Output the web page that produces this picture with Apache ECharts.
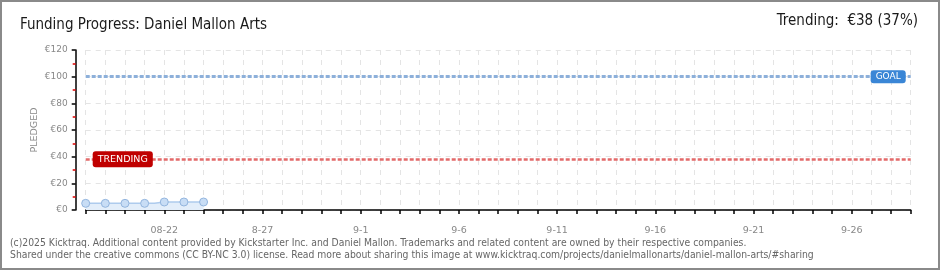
<!DOCTYPE html>
<html style="height: 100%">
   <head>
       <meta charset="utf-8">
       <script src="https://cdn.jsdelivr.net/npm/echarts@6/dist/echarts.min.js"></script>
   </head>
   <body style="height: 100%; margin: 0; background: #fff">
       <div id="container" style="width: 940px; height: 270px"></div>
       <script type="text/javascript">
// days of the campaign, mid august to end of september
var categories = ['8-18', '8-19', '8-20', '8-21', '08-22', '8-23', '8-24', '8-25', '8-26', '8-27',
    '8-28', '8-29', '8-30', '8-31', '9-1', '9-2', '9-3', '9-4', '9-5', '9-6',
    '9-7', '9-8', '9-9', '9-10', '9-11', '9-12', '9-13', '9-14', '9-15', '9-16',
    '9-17', '9-18', '9-19', '9-20', '9-21', '9-22', '9-23', '9-24', '9-25', '9-26',
    '9-27', '9-28', '9-29'];
var pledged = [5, 5, 5, 5, 6, 6, 6];
var goal = 100;
var trending = 38;
var yTicks = [0, 20, 40, 60, 80, 100, 120];

var pixelFont = 'DejaVu Sans';
var headFont = 'DejaVu Sans Condensed';
var dom = document.getElementById("container");
var myChart = echarts.init(dom);

var option = {
    backgroundColor: '#fff',
    animation: false,
    title: [
        {
            text: 'Funding Progress: Daniel Mallon Arts',
            left: 20,
            top: 18,
            padding: 0,
            textStyle: {fontFamily: headFont, fontSize: 15, fontWeight: 'normal', color: '#1a1a1a'}
        },
        {
            text: 'Trending:  €38 (37%)',
            right: 22,
            top: 14,
            padding: 0,
            textStyle: {fontFamily: headFont, fontSize: 15, fontWeight: 'normal', color: '#1a1a1a'}
        }
    ],
    grid: {
        left: 85.7,
        right: 29.3,
        top: 50,
        bottom: 60,
        containLabel: false
    },
    xAxis: {
        type: 'category',
        data: categories,
        boundaryGap: false,
        offset: 10,
        axisLine: {lineStyle: {color: '#000', width: 1.5}},
        axisTick: {show: true, interval: 0, length: 4, lineStyle: {color: '#000', width: 1.5}},
        axisLabel: {
            interval: function (i) { return i >= 4 && (i - 4) % 5 === 0; },
            color: '#888',
            fontFamily: pixelFont,
            fontSize: 9.5,
            margin: 6
        },
        splitLine: {show: true, interval: 0, lineStyle: {color: '#e4e4e4', type: [5, 5]}}
    },
    yAxis: {
        type: 'value',
        min: yTicks[0],
        max: yTicks[yTicks.length - 1],
        interval: 20,
        offset: 10,
        name: 'PLEDGED',
        nameLocation: 'middle',
        nameGap: 36,
        nameMoveOverlap: false,
        nameTextStyle: {color: '#888', fontFamily: pixelFont, fontSize: 9.5},
        axisLine: {show: true, lineStyle: {color: '#000', width: 1.5}},
        axisTick: {show: true, length: 4, lineStyle: {color: '#000', width: 1.5}},
        minorTick: {show: true, splitNumber: 2, length: 3, lineStyle: {color: '#e00000', width: 1.5}},
        axisLabel: {
            formatter: '€{value}',
            color: '#888',
            fontFamily: pixelFont,
            fontSize: 9,
            margin: 8
        },
        splitLine: {show: true, lineStyle: {color: '#e4e4e4', type: [5, 5]}}
    },
    series: [
        {
            name: 'pledged',
            type: 'line',
            step: 'middle',
            data: pledged,
            symbol: 'circle',
            symbolSize: 8,
            itemStyle: {color: '#c8ddf5', borderColor: '#93b5de', borderWidth: 1},
            lineStyle: {color: '#aecbed', width: 1.5},
            areaStyle: {color: '#e3eefa', opacity: 1},
            markLine: {
                silent: true,
                symbol: 'none',
                data: [
                    {
                        yAxis: goal,
                        lineStyle: {color: '#8db0da', width: 3, type: [4, 2]},
                        label: {
                            position: 'insideEnd',
                            formatter: 'GOAL',
                            distance: [5, 0],
                            verticalAlign: 'middle',
                            color: '#fff',
                            fontFamily: pixelFont,
                            fontSize: 9,
                            backgroundColor: '#3a86d6',
                            borderRadius: 3,
                            padding: [2, 5]
                        }
                    },
                    {
                        yAxis: trending,
                        lineStyle: {color: '#e36a6a', width: 2.5, type: [4, 2]},
                        label: {
                            position: 'insideStart',
                            formatter: 'TRENDING',
                            distance: [7, 0],
                            verticalAlign: 'middle',
                            color: '#fff',
                            fontFamily: pixelFont,
                            fontSize: 9.5,
                            backgroundColor: '#c00000',
                            borderRadius: 3,
                            padding: [3, 5]
                        }
                    }
                ]
            }
        }
    ],
    graphic: [
        {
            type: 'rect',
            silent: true,
            shape: {x: 1, y: 1, width: 938, height: 268},
            style: {fill: 'none', stroke: '#8a8a8a', lineWidth: 2}
        },
        {
            type: 'text',
            left: 10,
            top: 237,
            style: {
                text: '(c)2025 Kicktraq. Additional content provided by Kickstarter Inc. and Daniel Mallon. Trademarks and related content are owned by their respective companies.\nShared under the creative commons (CC BY-NC 3.0) license. Read more about sharing this image at www.kicktraq.com/projects/danielmallonarts/daniel-mallon-arts/#sharing',
                fill: '#666',
                font: '10.3px "DejaVu Sans Condensed"',
                lineHeight: 12.5
            }
        }
    ]
};

if (option && typeof option === "object") {
    myChart.setOption(option, true);
}
       </script>
   </body>
</html>
